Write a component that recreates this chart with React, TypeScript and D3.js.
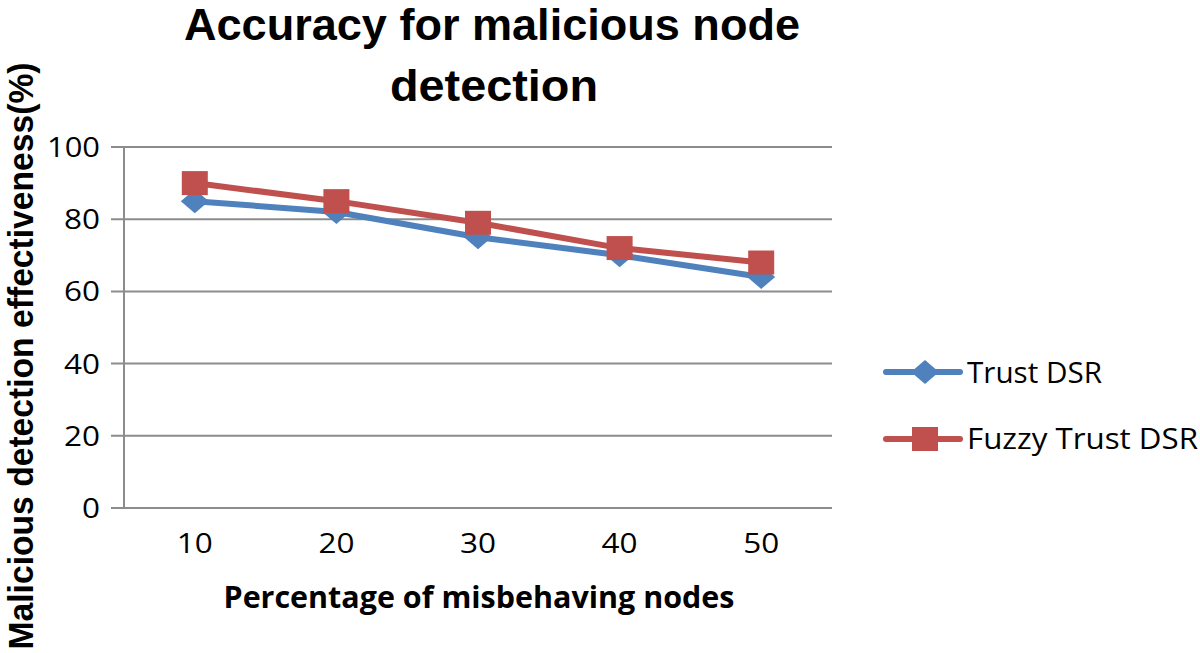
import React from "react";
import * as d3 from "d3";

const categories = ["10", "20", "30", "40", "50"];
const trustDSR = [85, 82, 75, 70, 64];
const fuzzyTrustDSR = [90, 85, 79, 72, 68];
const yTicks = [0, 20, 40, 60, 80, 100];
const seriesNames = ["Trust DSR", "Fuzzy Trust DSR"];
const titleLines = ["Accuracy for malicious node", "detection"];
const xTitle = "Percentage of misbehaving nodes";
const yTitle = "Malicious detection effectiveness(%)";

const W = 1200;
const H = 653;
const FONT = "'Open Sans', 'Liberation Sans', sans-serif";
const TITLE_FONT = "'Liberation Sans', Arial, sans-serif";
const BLUE = "#4F81BD";
const RED = "#C0504D";
const GRID = "#8c8c8c";

export default function App() {
  const left = 124;
  const right = 832;
  const top = 147;
  const bottom = 508;

  const x = d3.scalePoint<string>().domain(categories).range([left, right]).padding(0.5);
  const y = d3.scaleLinear().domain([0, 100]).range([bottom, top]);

  const line = d3
    .line<number>()
    .x((_, i) => x(categories[i]) as number)
    .y((d) => y(d));

  const diamond = (cx: number, cy: number, w: number, h: number) =>
    `M${cx},${cy - h / 2}L${cx + w / 2},${cy}L${cx},${cy + h / 2}L${cx - w / 2},${cy}Z`;

  const tickLen = (s: string) => (s.length === 3 ? 53 : s.length === 2 ? 36 : 18);

  return (
    <svg
      width={W}
      height={H}
      style={{ position: "absolute", left: 0, top: 0, background: "#fff" }}
      fontFamily={FONT}
    >
      <rect x={0} y={0} width={W} height={H} fill="#fff" />
      {/* Title */}
      <text
        x={492}
        y={40}
        textAnchor="middle"
        fontFamily={TITLE_FONT}
        fontSize={44}
        fontWeight="bold"
        textLength={616}
        lengthAdjust="spacingAndGlyphs"
        fill="#000"
      >
        {titleLines[0]}
      </text>
      <text
        x={494}
        y={101}
        textAnchor="middle"
        fontFamily={TITLE_FONT}
        fontSize={44}
        fontWeight="bold"
        textLength={208}
        lengthAdjust="spacingAndGlyphs"
        fill="#000"
      >
        {titleLines[1]}
      </text>

      {/* Gridlines and y ticks */}
      {yTicks.map((t) => (
        <g key={t}>
          <line x1={111} x2={right} y1={y(t)} y2={y(t)} stroke={GRID} strokeWidth={2} />
          <text
            x={100}
            y={y(t) + 10}
            textAnchor="end"
            fontSize={28}
            textLength={tickLen(String(t))}
            lengthAdjust="spacingAndGlyphs"
            fill="#000"
          >
            {t}
          </text>
        </g>
      ))}
      {/* Y axis */}
      <line x1={left} x2={left} y1={top} y2={bottom} stroke={GRID} strokeWidth={2} />

      {/* X tick labels */}
      {categories.map((c) => (
        <text
          key={c}
          x={x(c) as number}
          y={553}
          textAnchor="middle"
          fontSize={28}
          textLength={36}
          lengthAdjust="spacingAndGlyphs"
          fill="#000"
        >
          {c}
        </text>
      ))}

      {/* X title */}
      <text
        x={479}
        y={608}
        textAnchor="middle"
        fontSize={31}
        fontWeight="bold"
        textLength={511}
        lengthAdjust="spacingAndGlyphs"
        fill="#000"
      >
        {xTitle}
      </text>

      {/* Y title */}
      <g transform={`translate(33, 356) scale(1.12, 1) rotate(-90)`}>
        <text
          x={0}
          y={0}
          textAnchor="middle"
          fontFamily={TITLE_FONT}
          fontSize={31}
          fontWeight="bold"
          textLength={587}
          lengthAdjust="spacingAndGlyphs"
          fill="#000"
        >
          {yTitle}
        </text>
      </g>

      {/* Trust DSR series */}
      <path d={line(trustDSR) || ""} fill="none" stroke={BLUE} strokeWidth={6} strokeLinejoin="round" />
      {trustDSR.map((v, i) => (
        <path key={"t" + i} d={diamond(x(categories[i]) as number, y(v), 28, 24)} fill={BLUE} />
      ))}

      {/* Fuzzy Trust DSR series */}
      <path d={line(fuzzyTrustDSR) || ""} fill="none" stroke={RED} strokeWidth={6} strokeLinejoin="round" />
      {fuzzyTrustDSR.map((v, i) => (
        <rect
          key={"f" + i}
          x={(x(categories[i]) as number) - 13}
          y={y(v) - 12}
          width={26}
          height={24}
          fill={RED}
        />
      ))}

      {/* Legend */}
      <g>
        <line x1={886} x2={960} y1={372} y2={372} stroke={BLUE} strokeWidth={6} strokeLinecap="round" />
        <path d={diamond(925, 372, 28, 24)} fill={BLUE} />
        <text
          x={967}
          y={383}
          fontSize={29}
          textLength={135}
          lengthAdjust="spacingAndGlyphs"
          fill="#000"
        >
          {seriesNames[0]}
        </text>
        <line x1={886} x2={960} y1={439} y2={439} stroke={RED} strokeWidth={6} strokeLinecap="round" />
        <rect x={912} y={427} width={26} height={24} fill={RED} />
        <text
          x={967}
          y={449}
          fontSize={29}
          textLength={231}
          lengthAdjust="spacingAndGlyphs"
          fill="#000"
        >
          {seriesNames[1]}
        </text>
      </g>
    </svg>
  );
}
